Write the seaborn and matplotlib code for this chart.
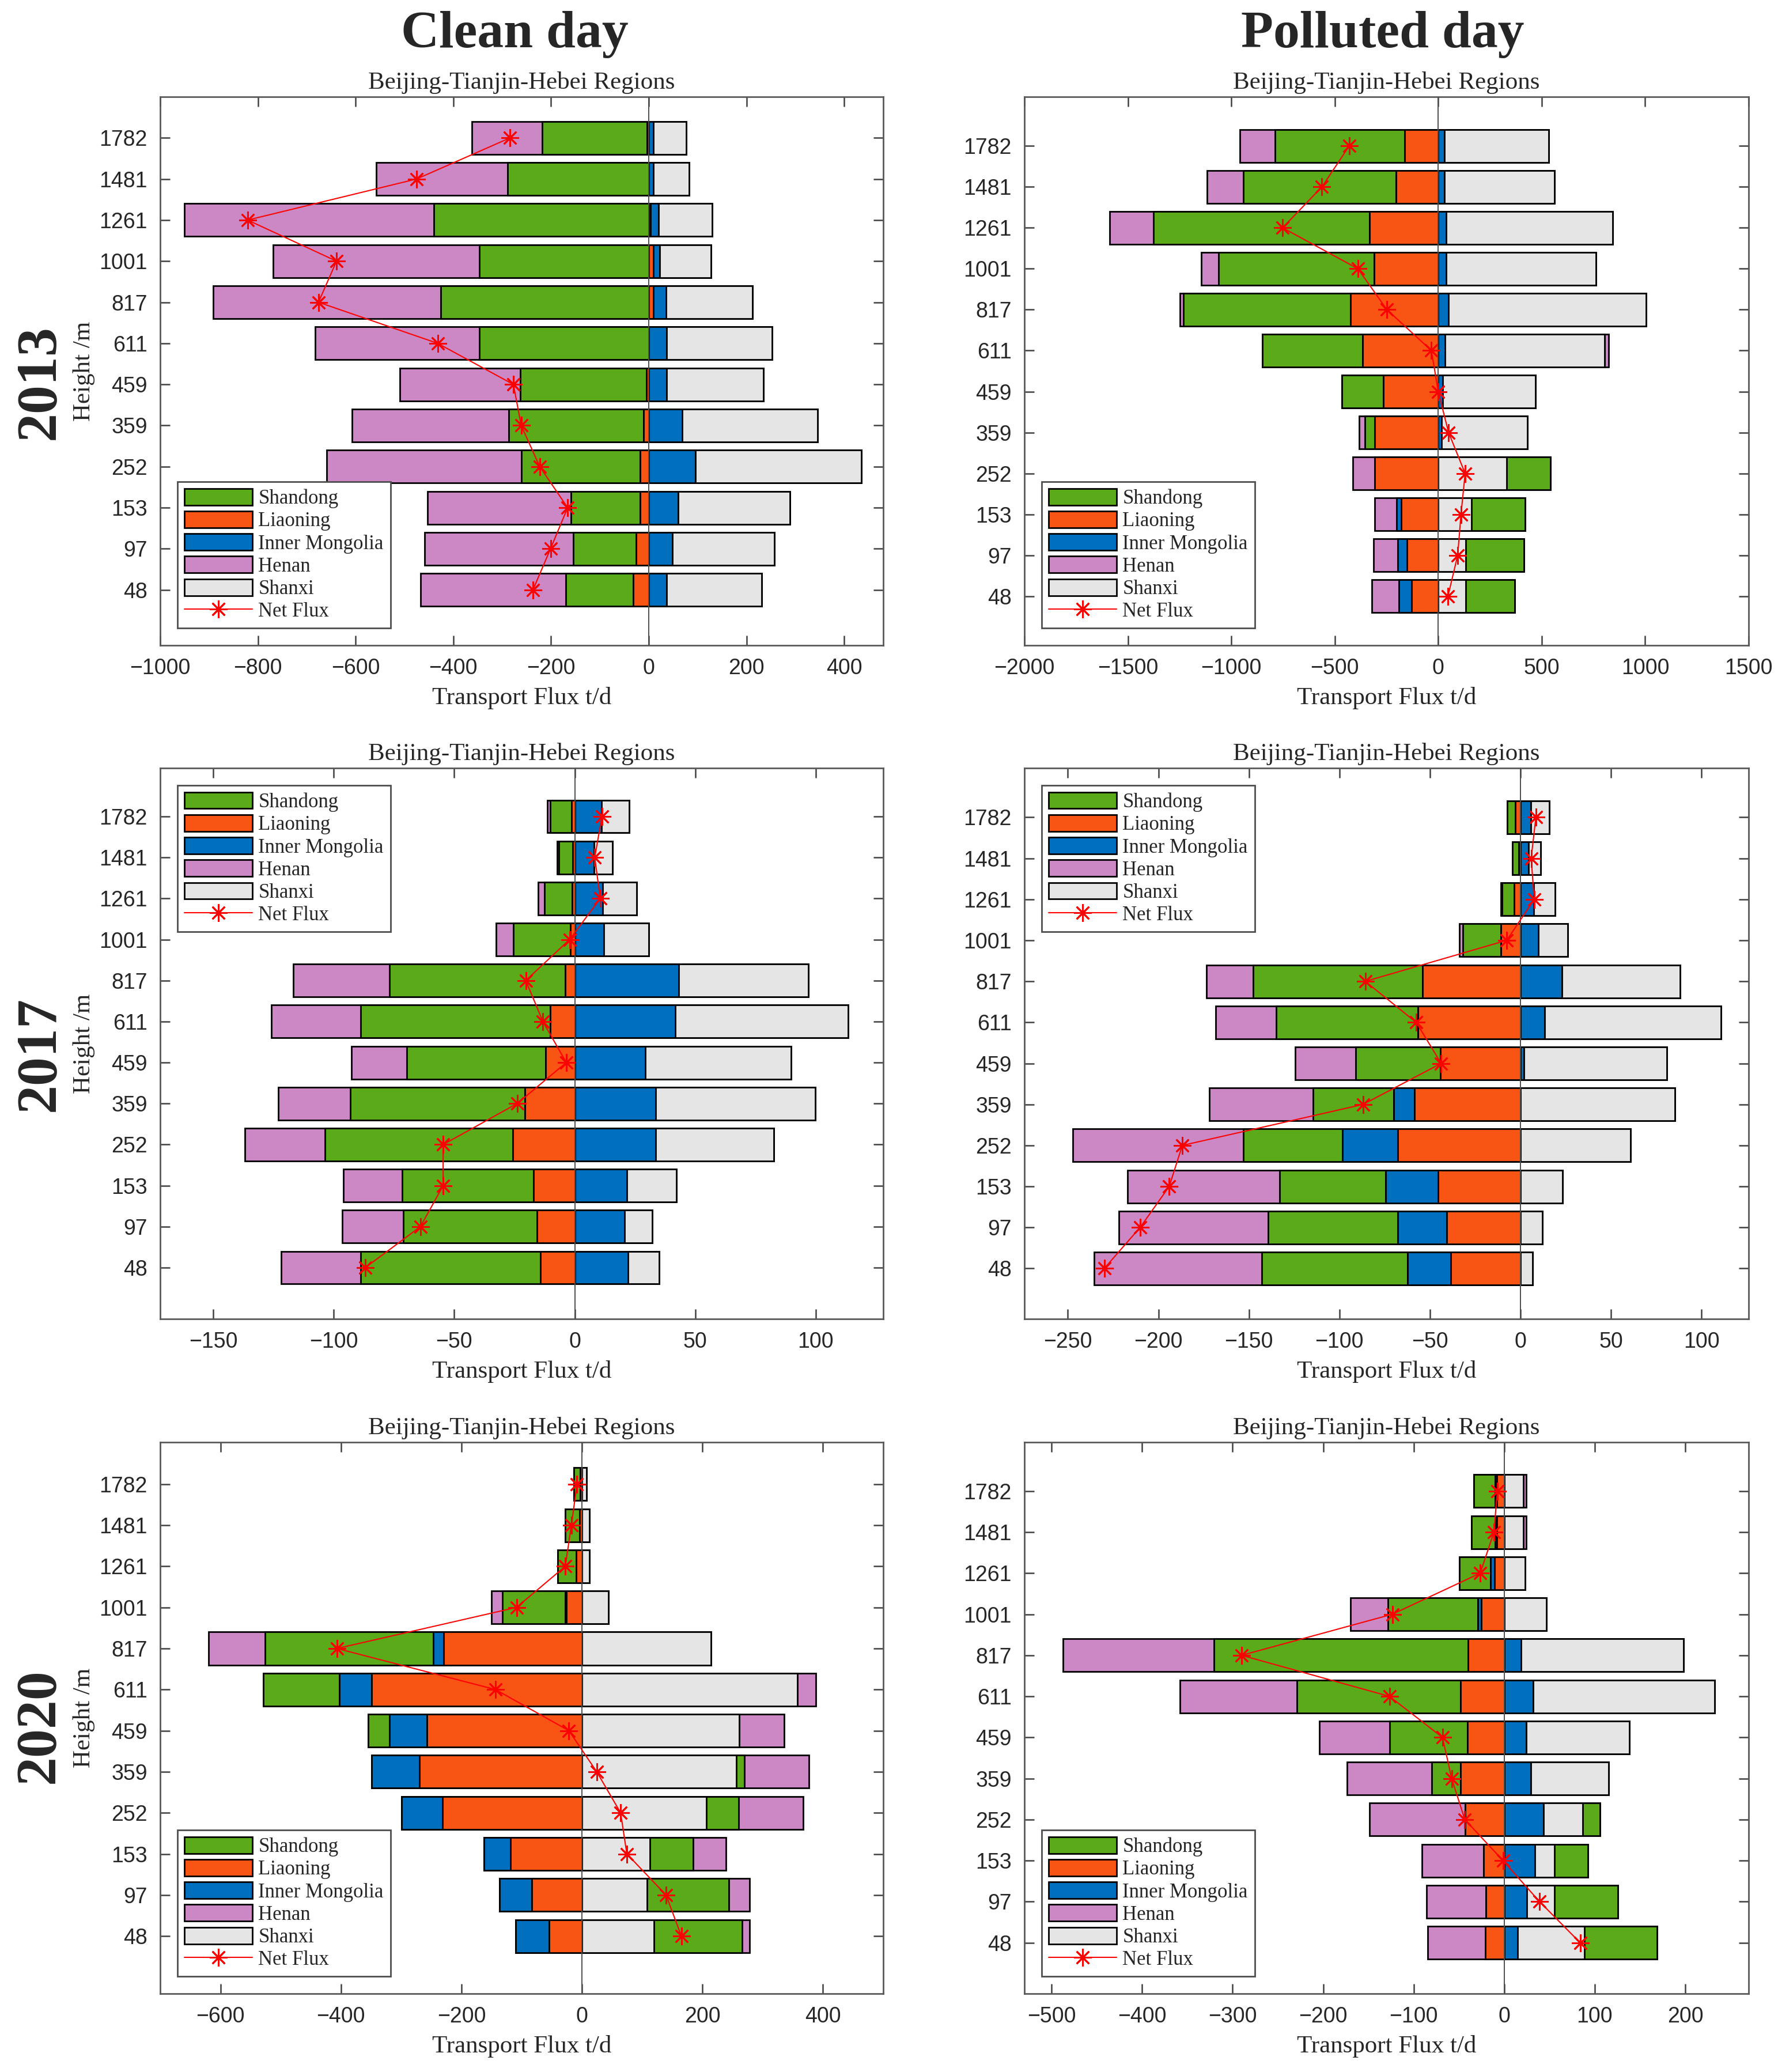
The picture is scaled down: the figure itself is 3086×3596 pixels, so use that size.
import numpy as np
import pandas as pd
import seaborn as sns
import matplotlib.pyplot as plt
from matplotlib.patches import Patch
from matplotlib.lines import Line2D

# heights (m), bottom to top
heights = ['48', '97', '153', '252', '359', '459', '611', '817', '1001', '1261', '1481', '1782']
# stacking order from zero outwards (as in the original bar series)
regions = ['Liaoning', 'Inner Mongolia', 'Shanxi', 'Shandong', 'Henan']
legend_order = ['Shandong', 'Liaoning', 'Inner Mongolia', 'Henan', 'Shanxi']
colors = {'Shandong': '#5aaa1a', 'Liaoning': '#f85414', 'Inner Mongolia': '#0070be',
          'Henan': '#cc88c4', 'Shanxi': '#e5e5e5'}

# ---- 2013 clean day (t/d)
liaoning_c13 = [-32, -26, -18, -18, -10, -5, 0, 9, 9, 3, 0, -3]
mongolia_c13 = [37, 48, 60, 95, 68, 37, 37, 26, 14, 17, 9, 9]
shanxi_c13 = [194, 209, 229, 340, 277, 198, 215, 177, 104, 110, 74, 68]
shandong_c13 = [-138, -128, -141, -242, -276, -258, -347, -426, -347, -440, -289, -215]
henan_c13 = [-297, -305, -294, -399, -321, -246, -336, -465, -422, -511, -269, -144]
net_c13 = [-237, -201, -166, -223, -261, -277, -432, -676, -639, -821, -475, -284]

# ---- 2013 polluted day
liaoning_p13 = [-129, -152, -179, -306, -306, -264, -366, -424, -311, -333, -204, -163]
mongolia_p13 = [-61, -44, -22, 0, 17, 22, 33, 50, 39, 39, 30, 30]
shanxi_p13 = [132, 132, 160, 331, 413, 449, 771, 953, 724, 804, 532, 504]
shandong_p13 = [237, 281, 261, 212, -49, -202, -485, -807, -750, -1042, -738, -625]
henan_p13 = [-132, -118, -105, -107, -28, 0, 20, -17, -85, -212, -176, -171]
net_p13 = [47, 94, 110, 130, 50, 0, -33, -248, -388, -752, -562, -430]

# ---- 2017 clean day
liaoning_c17 = [-14.2, -15.6, -17.0, -25.7, -20.8, -12.0, -10.2, -4.0, -1.9, -1.0, -0.9, -1.4]
mongolia_c17 = [22.2, 20.6, 21.7, 33.5, 33.5, 29.3, 41.6, 43.2, 12.0, 11.6, 8.0, 11.1]
shanxi_c17 = [12.8, 11.5, 20.4, 49.2, 66.2, 60.5, 71.8, 53.7, 18.7, 14.1, 7.6, 11.6]
shandong_c17 = [-74.6, -55.5, -54.6, -78.0, -72.3, -57.7, -78.6, -72.8, -23.6, -11.5, -5.7, -8.8]
henan_c17 = [-32.9, -25.3, -24.3, -33.1, -30.0, -22.9, -37.1, -40.1, -7.1, -2.6, -0.7, -1.1]
net_c17 = [-86.9, -64.0, -54.6, -54.6, -23.9, -3.5, -13.2, -20.3, -2.1, 10.6, 8.3, 11.3]

# ---- 2017 polluted day
liaoning_p17 = [-38.4, -40.6, -45.4, -67.7, -58.6, -44.4, -56.7, -54.2, -10.9, -3.6, -1.0, -2.8]
mongolia_p17 = [-24.0, -27.1, -29.2, -30.6, -11.3, 1.9, 13.5, 23.0, 9.8, 7.4, 4.5, 5.7]
shanxi_p17 = [6.6, 12.0, 23.3, 60.8, 85.4, 79.0, 97.1, 65.2, 16.4, 11.6, 6.5, 10.3]
shandong_p17 = [-80.6, -71.8, -58.3, -54.8, -44.7, -46.6, -78.1, -93.5, -20.9, -6.6, -3.4, -4.6]
henan_p17 = [-92.6, -82.2, -84.1, -94.1, -57.1, -33.4, -33.7, -25.8, -1.9, -0.7, 0, 0]
net_p17 = [-229.9, -210.1, -194.0, -186.8, -86.9, -43.8, -57.6, -85.7, -7.6, 7.6, 5.9, 8.5]

# ---- 2020 clean day
liaoning_c20 = [-54.7, -83.0, -118.9, -231.0, -269.8, -257.5, -349.0, -230.0, -25.8, -9.6, -3.8, -2.9]
mongolia_c20 = [-55.7, -53.8, -44.1, -68.0, -79.2, -62.3, -54.0, -17.0, -2.0, 0, 0, 0]
shanxi_c20 = [119.8, 107.5, 112.3, 206.6, 256.6, 261.3, 357.5, 214.0, 44.3, 12.7, 12.7, 7.3]
shandong_c20 = [146.2, 135.9, 72.6, 53.8, 13.2, -34.9, -126.0, -279.0, -104.2, -30.8, -23.9, -10.5]
henan_c20 = [12.3, 34.9, 53.8, 106.6, 106.6, 74.5, 30.2, -94.0, -18.0, 0, 0, 0]
net_c20 = [165.0, 139.6, 74.5, 64.2, 24.5, -21.7, -143.4, -406.6, -108.5, -27.7, -17.5, -8.3]

# ---- 2020 polluted day
liaoning_p20 = [-20.8, -20.2, -22.7, -42.9, -47.9, -40.4, -47.9, -39.7, -25.2, -10.7, -8.2, -8.2]
mongolia_p20 = [15.1, 25.2, 34.0, 43.5, 29.6, 24.6, 32.2, 18.3, -3.8, -4.4, -2.0, -2.0]
shanxi_p20 = [73.2, 30.3, 21.5, 43.5, 85.8, 113.4, 200.5, 179.7, 46.7, 23.3, 21.4, 21.4]
shandong_p20 = [80.7, 70.0, 37.2, 18.9, -32.2, -86.3, -181.0, -280.6, -99.6, -34.1, -25.9, -23.2]
henan_p20 = [-63.7, -65.6, -68.1, -105.9, -93.3, -77.6, -129.2, -167.1, -41.0, 0, 3.2, 3.2]
net_p20 = [83.9, 39.1, -1.3, -43.5, -58.0, -68.1, -126.7, -290.0, -123.6, -26.5, -11.3, -7.6]

sns.set_theme(style='ticks')
plt.rcParams['font.family'] = ['Liberation Sans', 'DejaVu Sans']
plt.rcParams['axes.unicode_minus'] = True
SERIF = ['Liberation Serif', 'DejaVu Serif']

W, H = 3086, 3596
fig = plt.figure(figsize=(W / 100, H / 100), dpi=100)


def draw_panel(box, series, net, xlim, xticks, ymarg, loc, ylabel):
    l, r, t, b = box
    ax = fig.add_axes([l / W, 1 - b / H, (r - l) / W, (b - t) / H])
    df = pd.DataFrame(dict(zip(regions, series)), index=heights)
    order = heights[::-1]
    pos = df.clip(lower=0).cumsum(axis=1)
    neg = df.clip(upper=0).cumsum(axis=1)
    # outermost segment first so inner segments sit on top
    for reg in regions[::-1]:
        for stack in (pos, neg):
            sns.barplot(x=stack[reg].values, y=heights, order=order, orient='h',
                        color=colors[reg], saturation=1, edgecolor='black',
                        linewidth=2, width=0.8, errorbar=None, ax=ax)
    ax.axvline(0, color='0.3', lw=1.4, zorder=3)
    ypos = [order.index(h) for h in heights]
    ax.plot(net, ypos, color='red', lw=1.5, marker=(8, 2, 0), ms=22,
            mec='red', mew=2, zorder=4)
    ax.set_xlim(*xlim)
    ax.set_xticks(xticks)
    ax.set_ylim(len(heights) - 1 + ymarg[1], -ymarg[0])
    ax.tick_params(direction='in', length=12, width=1.8, top=True, right=True,
                   labelsize=27, pad=16, color='0.25')
    for sp in ax.spines.values():
        sp.set_visible(True)
        sp.set_color('0.35')
        sp.set_linewidth(2)
    ax.set_title('Beijing-Tianjin-Hebei Regions', fontsize=31, family=SERIF, pad=10)
    ax.set_xlabel('Transport Flux t/d', fontsize=31, family=SERIF, labelpad=10)
    if ylabel:
        ax.set_ylabel('Height /m', fontsize=31, family=SERIF)
        ax.yaxis.set_label_coords(-0.09, 0.5)
    else:
        ax.set_ylabel('')
    handles = [Patch(facecolor=colors[k], edgecolor='black', linewidth=2, label=k)
               for k in legend_order]
    handles.append(Line2D([], [], color='red', lw=1.5, marker=(8, 2, 0), ms=22,
                          mec='red', mew=2, label='Net Flux'))
    leg = ax.legend(handles=handles, loc=loc, prop={'family': SERIF, 'size': 25},
                    frameon=True, fancybox=False, edgecolor='0.3', framealpha=1,
                    handlelength=3.4, handleheight=0.9, labelspacing=0.14,
                    handletextpad=0.3, borderpad=0.35, borderaxespad=0.85)
    leg.get_frame().set_linewidth(2)
    return ax


col_x = [(278, 1533), (1778, 3035)]
row_y = [(168, 1120), (1333, 2289), (2503, 3460)]

panels = [
    ([liaoning_c13, mongolia_c13, shanxi_c13, shandong_c13, henan_c13], net_c13,
     (-1000, 480), np.arange(-1000, 401, 200), (1.0, 1.35), 'lower left'),
    ([liaoning_p13, mongolia_p13, shanxi_p13, shandong_p13, henan_p13], net_p13,
     (-2000, 1500), np.arange(-2000, 1501, 500), (1.2, 1.2), 'lower left'),
    ([liaoning_c17, mongolia_c17, shanxi_c17, shandong_c17, henan_c17], net_c17,
     (-172, 128), np.arange(-150, 101, 50), (1.18, 1.25), 'upper left'),
    ([liaoning_p17, mongolia_p17, shanxi_p17, shandong_p17, henan_p17], net_p17,
     (-274, 126), np.arange(-250, 101, 50), (1.2, 1.23), 'upper left'),
    ([liaoning_c20, mongolia_c20, shanxi_c20, shandong_c20, henan_c20], net_c20,
     (-700, 500), np.arange(-600, 401, 200), (1.02, 1.4), 'lower left'),
    ([liaoning_p20, mongolia_p20, shanxi_p20, shandong_p20, henan_p20], net_p20,
     (-530, 270), np.arange(-500, 201, 100), (1.19, 1.24), 'lower left'),
]

for i, (series, net, xlim, xticks, ymarg, loc) in enumerate(panels):
    row, col = divmod(i, 2)
    (l, r), (t, b) = col_x[col], row_y[row]
    draw_panel((l, r, t, b), series, net, xlim, xticks, ymarg, loc, ylabel=(col == 0))

fig.text(893 / W, 1 - 60 / H, 'Clean day', ha='center', va='center',
         fontsize=66, fontweight='bold', family=SERIF)
fig.text(2400 / W, 1 - 60 / H, 'Polluted day', ha='center', va='center',
         fontsize=66, fontweight='bold', family=SERIF)
for year, yc in zip(['2013', '2017', '2020'], [663, 1829, 2995]):
    fig.text(69 / W, 1 - yc / H, year, rotation=90, ha='center', va='center',
             fontsize=72, fontweight='bold', family=SERIF)

fig.savefig('out.png', dpi=100, facecolor='white')
